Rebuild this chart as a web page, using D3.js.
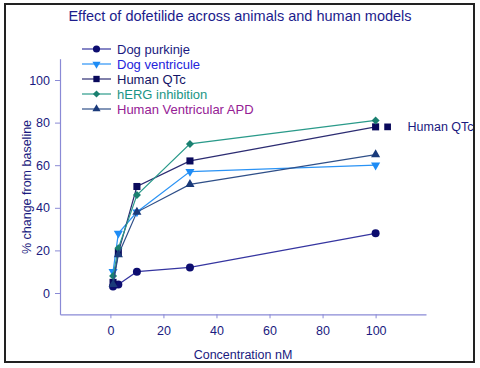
<!DOCTYPE html>
<html>
<head>
<meta charset="utf-8">
<script src="https://cdn.jsdelivr.net/npm/d3@7"></script>
<style>
  body { margin: 0; background: #fff; }
  text { font-family: "Liberation Sans", Arial, sans-serif; }
</style>
</head>
<body>
<script>
// concentrations (nM)
var conc = [1, 3, 10, 30, 100];

var seriesNames = ["Dog purkinje", "Dog ventricule", "Human QTc", "hERG inhibition", "Human Ventricular APD"];
var dogPurkinje = [3, 4, 10, 12, 28];
var dogVentricule = [10, 28, 38, 57, 60];
var humanQTc = [5, 19, 50, 62, 78];
var hergInhibition = [8, 21, 46, 70, 81];
var humanAPD = [4, 18, 38, 51, 65];

var xTicks = [0, 20, 40, 60, 80, 100];
var yTicks = [0, 20, 40, 60, 80, 100];

var width = 480, height = 368;
var svg = d3.select("body").append("svg")
    .attr("width", width)
    .attr("height", height);

// frame
svg.append("rect")
    .attr("x", 5).attr("y", 4)
    .attr("width", 469).attr("height", 358)
    .attr("fill", "none")
    .attr("stroke", "#222")
    .attr("stroke-width", 2);

var x = d3.scaleLinear().domain([-19, 119]).range([60, 426]);
var y = d3.scaleLinear().domain([-10, 110]).range([314.3, 58.7]);

var axisColor = "#8a8ad6", labelColor = "#1a1a80";

// title
svg.append("text")
    .attr("x", 240).attr("y", 21)
    .attr("text-anchor", "middle")
    .attr("font-size", 14.5)
    .attr("fill", "#1c1c8c")
    .text("Effect of dofetilide across animals and human models");

var gx = svg.append("g")
    .attr("transform", "translate(0," + y(-10) + ")")
    .call(d3.axisBottom(x).tickValues(xTicks).tickSize(4).tickSizeOuter(0).tickPadding(8));
var gy = svg.append("g")
    .attr("transform", "translate(" + x(-19) + ",0)")
    .call(d3.axisLeft(y).tickValues(yTicks).tickSize(5).tickSizeOuter(0).tickPadding(5));

[gx, gy].forEach(function (g) {
    g.select(".domain").attr("stroke", axisColor).attr("stroke-width", 1.2);
    g.selectAll(".tick line").attr("stroke", axisColor);
    g.selectAll(".tick text")
        .attr("fill", labelColor)
        .attr("font-size", 12.5)
        .attr("font-family", "Liberation Sans, Arial, sans-serif");
});

// axis titles
svg.append("text")
    .attr("x", 243).attr("y", 359)
    .attr("text-anchor", "middle")
    .attr("font-size", 12.5)
    .attr("fill", labelColor)
    .text("Concentration nM");
svg.append("text")
    .attr("transform", "translate(31,187) rotate(-90)")
    .attr("text-anchor", "middle")
    .attr("font-size", 12.5)
    .attr("fill", labelColor)
    .text("% change from baseline");

var series = [
    { name: seriesNames[0], values: dogPurkinje, line: "#3535a0", mark: "#0d0d70", text: "#1a1a80", sym: d3.symbolCircle, size: 50, rot: 0 },
    { name: seriesNames[1], values: dogVentricule, line: "#2a93f5", mark: "#1e8cf5", text: "#2424dc", sym: d3.symbolTriangle, size: 36, rot: 180 },
    { name: seriesNames[2], values: humanQTc, line: "#2c2c72", mark: "#0a0a5c", text: "#141466", sym: d3.symbolSquare, size: 50, rot: 0 },
    { name: seriesNames[3], values: hergInhibition, line: "#2a9a8a", mark: "#1a8070", text: "#1a9585", sym: d3.symbolSquare, size: 32, rot: 45 },
    { name: seriesNames[4], values: humanAPD, line: "#2f4f88", mark: "#1a3a7a", text: "#952095", sym: d3.symbolTriangle, size: 36, rot: 0 }
];

var line = d3.line()
    .x(function (d) { return x(d[0]); })
    .y(function (d) { return y(d[1]); });

series.forEach(function (s) {
    var pts = conc.map(function (c, i) { return [c, s.values[i]]; });
    svg.append("path")
        .attr("d", line(pts))
        .attr("fill", "none")
        .attr("stroke", s.line)
        .attr("stroke-width", 1.2);
    svg.selectAll(null)
        .data(pts)
        .enter().append("path")
        .attr("d", d3.symbol().type(s.sym).size(s.size))
        .attr("transform", function (d) { return "translate(" + x(d[0]) + "," + y(d[1]) + ") rotate(" + s.rot + ")"; })
        .attr("fill", s.mark);
});

// legend
var legend = svg.append("g");
series.forEach(function (s, i) {
    var ly = 49 + i * 15;
    legend.append("line")
        .attr("x1", 82).attr("x2", 111)
        .attr("y1", ly).attr("y2", ly)
        .attr("stroke", s.line).attr("stroke-width", 1.2);
    legend.append("path")
        .attr("d", d3.symbol().type(s.sym).size(s.size * 0.8))
        .attr("transform", "translate(96.5," + ly + ") rotate(" + s.rot + ")")
        .attr("fill", s.mark);
    legend.append("text")
        .attr("x", 117).attr("y", ly + 4.5)
        .attr("font-size", 13)
        .attr("fill", s.text)
        .text(s.name);
});

// annotation at the end of Human QTc
var lastQTc = humanQTc[humanQTc.length - 1];
svg.append("path")
    .attr("d", d3.symbol().type(d3.symbolSquare).size(45))
    .attr("transform", "translate(" + (x(100) + 12) + "," + y(lastQTc) + ")")
    .attr("fill", "#0a0a5c");
svg.append("text")
    .attr("x", x(100) + 32).attr("y", y(lastQTc) + 4.5)
    .attr("font-size", 12.5)
    .attr("fill", "#1a1a80")
    .text("Human QTc");
</script>
</body>
</html>
